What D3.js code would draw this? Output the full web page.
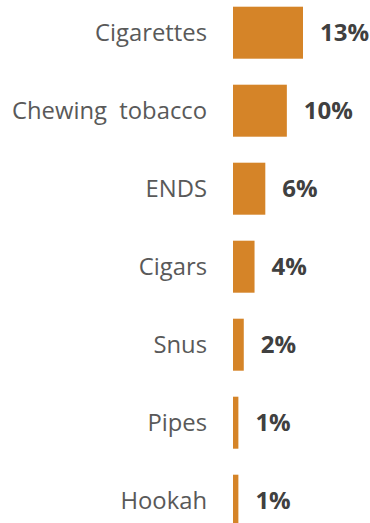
<!DOCTYPE html>
<html>
<head>
<meta charset="utf-8">
<script src="https://cdn.jsdelivr.net/npm/d3@7"></script>
<style>
  html, body { margin: 0; padding: 0; background: #fff; }
  svg { display: block; }
</style>
</head>
<body>
<script>
// Tobacco product use, share of respondents (%)
const products = ["Cigarettes", "Chewing  tobacco", "ENDS", "Cigars", "Snus", "Pipes", "Hookah"];
const shares = [13, 10, 6, 4, 2, 1, 1];

const width = 370, height = 523;
const barX = 233;

const svg = d3.select("body").append("svg")
  .attr("width", width)
  .attr("height", height);

const data = products.map((p, i) => ({ product: p, share: shares[i] }));

const y = d3.scaleBand()
  .domain(products)
  .range([-6.3, -6.3 + 7 * 78])
  .paddingInner(1 / 3)
  .paddingOuter(1 / 6);

const x = d3.scaleLinear()
  .domain([0, 13])
  .range([barX, barX + 70]);

// bars
svg.append("g")
  .selectAll("rect")
  .data(data)
  .join("rect")
  .attr("x", x(0))
  .attr("y", d => y(d.product))
  .attr("width", d => x(d.share) - x(0))
  .attr("height", y.bandwidth())
  .attr("fill", "#d58428");

// category labels
svg.append("g")
  .selectAll("text")
  .data(data)
  .join("text")
  .attr("x", 207)
  .attr("y", d => y(d.product) + y.bandwidth() / 2)
  .attr("dy", "0.35em")
  .attr("text-anchor", "end")
  .attr("font-family", "'Open Sans', sans-serif")
  .attr("font-size", 23.8)
  .attr("fill", "#595959")
  .style("white-space", "pre")
  .text(d => d.product);

// value labels
svg.append("g")
  .selectAll("text")
  .data(data)
  .join("text")
  .attr("x", d => x(d.share) + 17)
  .attr("y", d => y(d.product) + y.bandwidth() / 2)
  .attr("dy", "0.35em")
  .attr("font-family", "'Open Sans', sans-serif")
  .attr("font-weight", "bold")
  .attr("font-size", 24)
  .attr("fill", "#404040")
  .text(d => d.share + "%");
</script>
</body>
</html>
